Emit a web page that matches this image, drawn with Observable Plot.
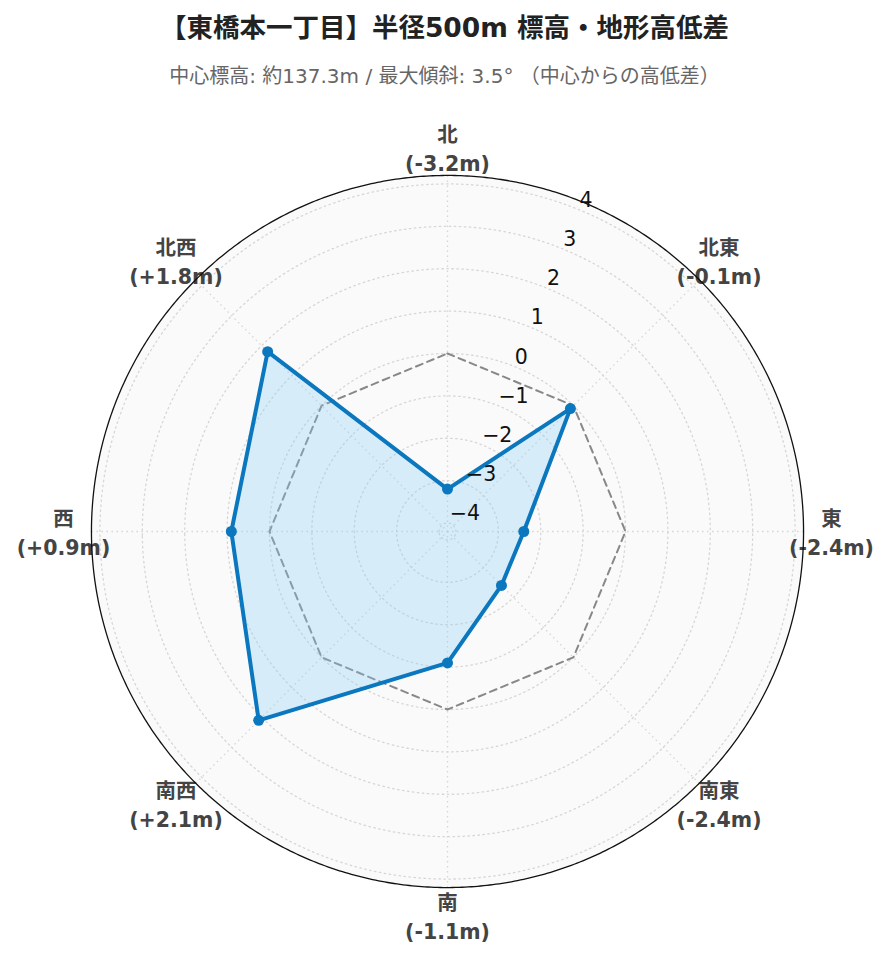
<!DOCTYPE html>
<html><head><meta charset="utf-8">
<script src="https://cdn.jsdelivr.net/npm/d3@7"></script>
<script src="https://cdn.jsdelivr.net/npm/@observablehq/plot@0.6"></script>
<style>
body{margin:0;background:#fff;font-family:"DejaVu Sans","Noto Sans CJK JP",sans-serif;}
#wrap{position:relative;width:889px;height:962px;}
#title{position:absolute;left:0;width:889px;top:11px;text-align:center;font-size:26.5px;font-weight:bold;color:#222;line-height:34px;}
#subtitle{position:absolute;left:0;width:889px;top:63px;text-align:center;font-size:20px;color:#666;line-height:26px;}
#chart{position:absolute;left:0;top:111px;}
</style></head><body>
<div id="wrap">
<div id="title">【東橋本一丁目】半径500m 標高・地形高低差</div>
<div id="subtitle">中心標高: 約137.3m / 最大傾斜: 3.5° （中心からの高低差）</div>
<div id="chart"></div>
</div>
<script>
const directions = ["北","北東","東","南東","南","南西","西","北西"];
const diffs = [-3.2,-0.1,-2.4,-2.4,-1.1,2.1,0.9,1.8];
const tickValues = [-4,-3,-2,-1,0,1,2,3,4];
const rMin = -4.2, rMax = 4.2;

const K = 0.1; // degrees per unit
const lat = v => 90 - (v - rMin) * K;
const lon = d => 180 - 45 * directions.indexOf(d);
const circle = v => d3.geoCircle().center([0, 90]).radius((v - rMin) * K).precision(0.5)();
const fmtDiff = v => `(${v > 0 ? "+" : ""}${v.toFixed(1)}m)`;
const fmtTick = v => v < 0 ? "\u2212" + Math.abs(v) : String(v);

const rows = directions.map((d, i) => ({dir: d, value: diffs[i]}));
const labelValue = 4.86;
const domainRadius = (rMax - rMin) * K * 420 / 356;

const chart = Plot.plot({
  width: 889,
  height: 840,
  marginTop: 0, marginBottom: 0, marginLeft: 5, marginRight: 0,
  style: {fontFamily: '"DejaVu Sans","Noto Sans CJK JP",sans-serif', background: "white", overflow: "visible"},
  projection: {
    type: "azimuthal-equidistant",
    rotate: [0, -90],
    domain: d3.geoCircle().center([0, 90]).radius(domainRadius)()
  },
  marks: [
    Plot.geo([rMax], {geometry: circle, fill: "#fafafa", stroke: "none"}),
    Plot.geo(tickValues, {geometry: circle, fill: "none", stroke: "#d6d6d6", strokeWidth: 1.3, strokeDasharray: "1.5,3.5"}),
    Plot.link(directions, {x1: lon, y1: lat(rMax), x2: 0, y2: 90, stroke: "#d6d6d6", strokeWidth: 1.3, strokeDasharray: "1.5,3.5"}),
    Plot.line(rows, {x: d => lon(d.dir), y: () => lat(0), curve: "linear-closed", stroke: "#888", strokeWidth: 2, strokeDasharray: "7,5"}),
    Plot.line(rows, {x: d => lon(d.dir), y: d => lat(d.value), curve: "linear-closed", stroke: "#0a77be", strokeWidth: 4, fill: "rgb(135,206,250)", fillOpacity: 0.3, strokeLinejoin: "round"}),
    Plot.dot(rows, {x: d => lon(d.dir), y: d => lat(d.value), r: 5.5, fill: "#0a77be", stroke: "none"}),
    Plot.text(tickValues, {x: 157.5, y: lat, text: fmtTick, textAnchor: "start", dx: -1, dy: -10, fontSize: 20.5, fill: "#111"}),
    Plot.text(rows, {x: d => lon(d.dir), y: () => lat(labelValue), text: d => `${d.dir}\n${fmtDiff(d.value)}`, lineHeight: 1.42, fontSize: 20.5, fontWeight: "bold", fill: "#444"}),
    Plot.geo([rMax], {geometry: circle, fill: "none", stroke: "#111", strokeWidth: 1.3})
  ]
});
document.getElementById("chart").appendChild(chart);
</script>
</body></html>
